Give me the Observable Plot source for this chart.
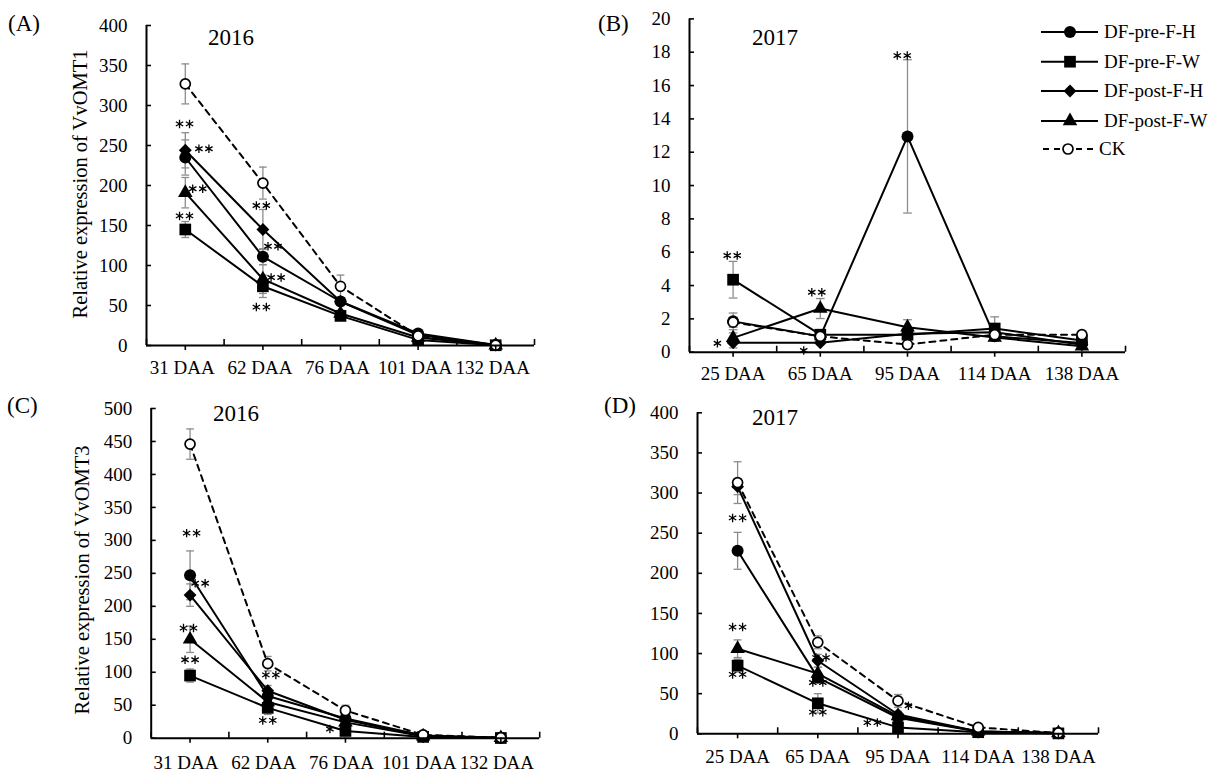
<!DOCTYPE html>
<html><head><meta charset="utf-8">
<script src="https://cdn.jsdelivr.net/npm/d3@7"></script>
<script src="https://cdn.jsdelivr.net/npm/@observablehq/plot@0.6"></script>
<style>
html,body{margin:0;padding:0;background:#fff;}
#page{position:relative;width:1219px;height:772px;overflow:hidden;font-family:"Liberation Serif","Times New Roman",serif;color:#000;}
.panel{position:absolute;}
.lbl{position:absolute;white-space:nowrap;line-height:1;transform:translateY(-50%);}
.ytitle{position:absolute;white-space:nowrap;line-height:1;transform:translate(-50%,-50%) rotate(-90deg);font-size:20.5px;}
</style></head><body><div id="page"></div>
<script>
// ---------- data ----------
const seriesNames = ["DF-pre-F-H", "DF-pre-F-W", "DF-post-F-H", "DF-post-F-W", "CK"];
const cats2016 = ["31 DAA", "62 DAA", "76 DAA", "101 DAA", "132 DAA"];
const cats2017 = ["25 DAA", "65 DAA", "95 DAA", "114 DAA", "138 DAA"];
const ticks400 = [0, 50, 100, 150, 200, 250, 300, 350, 400];
const ticks20 = [0, 2, 4, 6, 8, 10, 12, 14, 16, 18, 20];
const ticks500 = [0, 50, 100, 150, 200, 250, 300, 350, 400, 450, 500];

// rows: DF-pre-F-H, DF-pre-F-W, DF-post-F-H, DF-post-F-W, CK
const valsA = [[235, 111, 55, 15, 0.5], [145, 74, 37, 7, 0.3], [244, 145, 55, 13, 0.5], [191, 83, 40, 10, 0.4], [327, 203, 74, 12, 0.5]];
const errsA = [[22, 10, 4, 2, 0.1], [10, 14, 3, 1, 0.1], [22, 25, 5, 2, 0.1], [19, 18, 4, 1, 0.1], [25, 20, 14, 3, 0.1]];
const starsA = [[0.49, 277, "**"], [0.74, 246, "**"], [0.66, 196, "**"], [0.49, 162, "**"], [1.48, 175, "**"], [1.63, 124, "**"], [1.67, 85, "**"], [1.48, 48, "**"]];

const valsB = [[1.85, 0.95, 12.95, 0.95, 0.55], [4.35, 1.05, 1.05, 1.42, 0.7], [0.56, 0.56, 1.1, 1.2, 0.45], [0.86, 2.62, 1.5, 0.88, 0.36], [1.8, 0.95, 0.46, 1.05, 1.05]];
const errsB = [[0.5, 0.2, 4.6, 0.15, 0.1], [1.1, 0.3, 0.2, 0.7, 0.15], [0.3, 0.1, 0.2, 0.2, 0.1], [0.3, 0.6, 0.45, 0.2, 0.1], [0.3, 0.2, 0.15, 0.2, 0.2]];
const starsB = [[2.44, 17.8, "**"], [0.49, 5.8, "**"], [1.46, 3.6, "**"], [0.32, 0.54, "*"], [1.31, 0.1, "*"]];

const valsC = [[247, 64, 30, 4, 0.8], [95, 46, 11, 2, 0.3], [217, 72, 28, 3, 0.5], [150, 55, 24, 3, 0.5], [446, 113, 42, 5, 0.8]];
const errsC = [[37, 8, 4, 1, 0.1], [10, 10, 3, 0.5, 0.1], [17, 8, 4, 1, 0.1], [20, 6, 3, 1, 0.1], [23, 11, 8, 1, 0.1]];
const starsC = [[0.52, 311, "**"], [0.63, 235, "**"], [0.48, 167, "**"], [0.5, 119, "**"], [1.54, 96, "**"], [1.5, 27, "**"], [2.3, 14, "*"]];

const valsD = [[228, 70, 20, 3, 1], [85, 38, 8, 2, 0.5], [308, 91, 24, 3, 1], [106, 75, 22, 3, 1], [313, 114, 41, 8, 1]];
const errsD = [[23, 6, 3, 1, 0.1], [8, 12, 2, 1, 0.1], [10, 8, 4, 1, 0.1], [11, 8, 3, 1, 0.1], [26, 8, 8, 2, 0.1]];
const starsD = [[0.5, 269, "**"], [0.5, 133, "**"], [0.5, 74, "**"], [1.54, 95, "**"], [1.5, 64, "**"], [1.5, 27, "**"], [2.18, 14, "**"], [2.63, 35, "*"]];

// ---------- drawing ----------
const FONT = '"Liberation Serif","Times New Roman",serif';
const symbols = ["circle", "square", "diamond2", "triangle"];
const radii = [6, 6.6, 5.8, 5.4];
const page = document.getElementById("page");

function panel(o) {
  const rows = [];
  o.vals.forEach((arr, s) => arr.forEach((v, i) => rows.push({s, x: i + 0.5, v, e: o.errs[s][i]})));
  const starPts = [];
  o.stars.forEach(([x, y, t]) => {
    if (t.length === 2) { starPts.push({x, y, k: -1}); starPts.push({x, y, k: 1}); }
    else starPts.push({x, y, k: 0});
  });
  const cap = 0.05;
  const top = d => d.v + d.e, bot = d => Math.max(0, d.v - d.e);
  const marks = [
    Plot.ruleX(rows, {x: "x", y1: bot, y2: top, stroke: "#8c8c8c", strokeWidth: 1.3}),
    Plot.link(rows, {x1: d => d.x - cap, x2: d => d.x + cap, y1: top, y2: top, stroke: "#8c8c8c", strokeWidth: 1.3}),
    Plot.link(rows, {x1: d => d.x - cap, x2: d => d.x + cap, y1: bot, y2: bot, stroke: "#8c8c8c", strokeWidth: 1.3}),
    Plot.line(rows.filter(d => d.s < 4), {x: "x", y: "v", z: "s", stroke: "#000", strokeWidth: 2}),
    Plot.line(rows.filter(d => d.s === 4), {x: "x", y: "v", stroke: "#000", strokeWidth: 2, strokeDasharray: "6,5"}),
    Plot.dot(starPts.filter(d => d.k === -1), {x: "x", y: "y", symbol: "asterisk", r: 4, stroke: "#000", strokeWidth: 1.3, dx: -5}),
    Plot.dot(starPts.filter(d => d.k === 1), {x: "x", y: "y", symbol: "asterisk", r: 4, stroke: "#000", strokeWidth: 1.3, dx: 5}),
    Plot.dot(starPts.filter(d => d.k === 0), {x: "x", y: "y", symbol: "asterisk", r: 4, stroke: "#000", strokeWidth: 1.3}),
  ];
  for (let s = 0; s < 4; s++) {
    marks.push(Plot.dot(rows.filter(d => d.s === s), {x: "x", y: "v", symbol: symbols[s], r: radii[s], fill: "#000", stroke: "none"}));
  }
  marks.push(
    Plot.dot(rows.filter(d => d.s === 4), {x: "x", y: "v", r: 5, fill: "#fff", stroke: "#000", strokeWidth: 1.7}),
    Plot.ruleX([0], {y1: 0, y2: o.yMax, stroke: "#000", strokeWidth: 2}),
    Plot.ruleY([0], {x1: 0, x2: 5, stroke: "#000", strokeWidth: 2}),
    Plot.axisY({ticks: o.yTicks, tickSize: 0, tickPadding: 19, label: null}),
    Plot.axisY({ticks: o.yTicks, tickSize: 5, dx: 5, fill: "none", label: null, strokeWidth: 1.6}),
    Plot.axisX({ticks: o.cats.map((_, i) => i + 0.5), tickFormat: d => o.cats[Math.floor(d)], tickSize: 0, tickPadding: o.labelPad, dx: o.labelDx, label: null}),
    Plot.axisX({ticks: o.cats.map((_, i) => i + 0.5), tickSize: 5, fill: "none", label: null, strokeWidth: 1.6}),
    Plot.axisX({ticks: d3.range(6), tickSize: 6, dy: -6, fill: "none", label: null, strokeWidth: 1.6})
  );
  const svg = Plot.plot({
    width: o.width, height: o.height,
    marginLeft: o.m[0], marginRight: o.m[1], marginTop: o.m[2], marginBottom: o.m[3],
    x: {domain: [0, 5]},
    y: {domain: [0, o.yMax]},
    style: {fontFamily: FONT, fontSize: "19px", color: "#000", background: "transparent", overflow: "visible"},
    marks
  });
  svg.classList.add("panel");
  svg.style.left = o.left + "px";
  svg.style.top = o.topPx + "px";
  page.appendChild(svg);
}

function label(text, x, cy, size) {
  const d = document.createElement("div");
  d.className = "lbl";
  d.textContent = text;
  d.style.left = x + "px";
  d.style.top = cy + "px";
  d.style.fontSize = size + "px";
  page.appendChild(d);
}
function ytitle(text, cx, cy) {
  const d = document.createElement("div");
  d.className = "ytitle";
  d.textContent = text;
  d.style.left = cx + "px";
  d.style.top = cy + "px";
  page.appendChild(d);
}

panel({vals: valsA, errs: errsA, stars: starsA, cats: cats2016, yTicks: ticks400, yMax: 400,
  left: 0, topPx: 0, width: 560, height: 380, m: [146, 26, 25, 35], labelPad: 15, labelDx: -3});
panel({vals: valsB, errs: errsB, stars: starsB, cats: cats2017, yTicks: ticks20, yMax: 20,
  left: 600, topPx: 0, width: 619, height: 380, m: [89, 94, 18.4, 28.3], labelPad: 14, labelDx: 0});
panel({vals: valsC, errs: errsC, stars: starsC, cats: cats2016, yTicks: ticks500, yMax: 500,
  left: 0, topPx: 380, width: 560, height: 392, m: [150.7, 20.8, 28, 34.3], labelPad: 17, labelDx: -4});
panel({vals: valsD, errs: errsD, stars: starsD, cats: cats2017, yTicks: ticks400, yMax: 400,
  left: 600, topPx: 380, width: 619, height: 392, m: [97, 121, 32.3, 38.7], labelPad: 16, labelDx: 0});

label("(A)", 8, 23, 23); label("2016", 208, 37, 23);
label("(B)", 598, 23, 23); label("2017", 752, 37, 23);
label("(C)", 7, 405, 23); label("2016", 213, 413, 23);
label("(D)", 604, 405, 23); label("2017", 752, 417, 23);
ytitle("Relative expression of VvOMT1", 80, 184);
ytitle("Relative expression of  VvOMT3", 82, 580);

// legend (panel B)
const leg = d3.create("svg").attr("width", 200).attr("height", 160)
  .style("position", "absolute").style("left", "1019px").style("top", "15px").style("overflow", "visible");
const rowY = [17, 46.7, 76, 106, 134];
const d3sym = {circle: d3.symbolCircle, square: d3.symbolSquare, diamond2: d3.symbolDiamond2, triangle: d3.symbolTriangle};
seriesNames.forEach((name, s) => {
  const g = leg.append("g").attr("transform", `translate(0,${rowY[s]})`);
  if (s < 4) {
    g.append("line").attr("x1", 22).attr("x2", 79).attr("stroke", "#000").attr("stroke-width", 2);
    g.append("path").attr("transform", "translate(51,0)")
      .attr("d", d3.symbol(d3sym[symbols[s]], Math.PI * radii[s] * radii[s])())
      .attr("fill", "#000");
    g.append("text").attr("x", 85).attr("dy", "0.34em").text(name);
  } else {
    g.append("line").attr("x1", 24).attr("x2", 74).attr("stroke", "#000").attr("stroke-width", 2).attr("stroke-dasharray", "6,5");
    g.append("circle").attr("cx", 49).attr("r", 5).attr("fill", "#fff").attr("stroke", "#000").attr("stroke-width", 1.7);
    g.append("text").attr("x", 80).attr("dy", "0.34em").text(name);
  }
});
leg.selectAll("text").attr("font-family", FONT).attr("font-size", 19).attr("fill", "#000");
page.appendChild(leg.node());
</script>
</body></html>
